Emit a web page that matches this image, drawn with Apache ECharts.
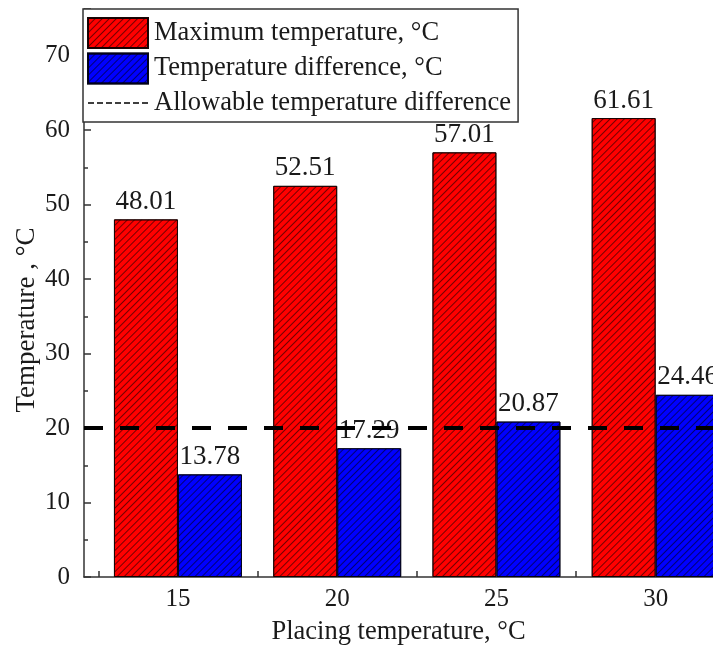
<!DOCTYPE html>
<html>
<head>
<meta charset="utf-8">
<script src="https://cdn.jsdelivr.net/npm/echarts@6/dist/echarts.min.js"></script>
<style>
  html, body { margin: 0; padding: 0; background: #ffffff; }
  #chart { width: 713px; height: 648px; }
</style>
</head>
<body>
<div id="chart"></div>
<script>
// Placing temperature groups (°C)
const placingTemps = [15, 20, 25, 30];
// Maximum temperature reached for each placing temperature (°C)
const maxTemps = [48.01, 52.51, 57.01, 61.61];
// Temperature difference for each placing temperature (°C)
const tempDiffs = [13.78, 17.29, 20.87, 24.46];
// Allowable temperature difference (°C)
const allowableDiff = 20;
// Tick marks sit between the groups, labels at the group centres
const xTickValues = [12.5, 17.5, 22.5, 27.5];
const xLabelValues = [15, 20, 25, 30];

const FONT = 'Liberation Serif, Times New Roman, serif';
const TEXT = '#1a1a1a';
const AXIS = '#333333';

// Thin diagonal "/" hatching laid over the bar fill
const hatch = {
  symbol: 'rect',
  symbolSize: 1,
  dashArrayX: [1, 0],
  dashArrayY: [1, 4],
  rotation: -Math.PI / 4,
  color: 'rgba(0,0,0,0.55)'
};

// Short-dash icon for the allowable-difference legend entry
const dashIcon = 'path://' + [0, 9, 18, 27, 36, 45, 54]
  .map(x => `M${x},0h6v1.5h-6z`).join(' ');

const chart = echarts.init(document.getElementById('chart'), null, { renderer: 'canvas' });

const barLabel = {
  show: true,
  position: 'top',
  distance: 4,
  color: TEXT,
  fontFamily: FONT,
  fontSize: 27,
  formatter: p => p.value[1].toFixed(2)
};

chart.setOption({
  animation: false,
  backgroundColor: '#ffffff',
  textStyle: { fontFamily: FONT },
  grid: { left: 84, right: 0, top: 9, bottom: 71, containLabel: false, outerBoundsMode: 'none' },
  legend: {
    orient: 'vertical',
    left: 83,
    top: 9,
    padding: [8, 7, 4, 4],
    itemGap: 3.5,
    itemWidth: 60,
    itemHeight: 30,
    backgroundColor: '#ffffff',
    borderColor: '#333333',
    borderWidth: 1.5,
    borderRadius: 0,
    textStyle: { fontFamily: FONT, fontSize: 26.5, lineHeight: 30, color: TEXT, padding: [0, 0, 0, 1] },
    data: [
      { name: 'Maximum temperature, °C', icon: 'rect' },
      { name: 'Temperature difference, °C', icon: 'rect' },
      { name: 'Allowable temperature difference', icon: dashIcon, itemStyle: { color: '#000', borderWidth: 0 } }
    ]
  },
  xAxis: {
    type: 'value',
    min: 12.05,
    max: 31.8,
    name: 'Placing temperature, °C',
    nameLocation: 'middle',
    nameGap: 42,
    nameMoveOverlap: false,
    nameTextStyle: { fontFamily: FONT, fontSize: 26.5, color: TEXT },
    axisLine: { show: true, onZero: false, lineStyle: { color: AXIS, width: 1.5 } },
    axisTick: { show: true, inside: true, length: 6, customValues: xTickValues, lineStyle: { color: AXIS, width: 1.5 } },
    axisLabel: { show: true, customValues: xLabelValues, margin: 10, fontFamily: FONT, fontSize: 25, color: TEXT },
    splitLine: { show: false }
  },
  yAxis: {
    type: 'value',
    min: 0,
    max: 76.25,
    interval: 10,
    name: 'Temperature , °C',
    nameLocation: 'middle',
    nameGap: 44,
    nameMoveOverlap: false,
    nameTextStyle: { fontFamily: FONT, fontSize: 27, color: TEXT, padding: [0, 54, 0, 0] },
    axisLine: { show: true, lineStyle: { color: AXIS, width: 1.5 } },
    axisTick: { show: true, inside: true, length: 7, lineStyle: { color: AXIS, width: 1.5 } },
    minorTick: { show: true, splitNumber: 2, length: 4, lineStyle: { color: AXIS, width: 1.5 } },
    axisLabel: { margin: 14, fontFamily: FONT, fontSize: 25, color: TEXT, showMaxLabel: false },
    splitLine: { show: false }
  },
  series: [
    {
      name: 'Maximum temperature, °C',
      type: 'bar',
      barWidth: 64,
      barGap: '0%',
      data: placingTemps.map((t, i) => [t, maxTemps[i]]),
      itemStyle: { color: '#ff0000', borderColor: 'rgba(20,0,0,0.85)', borderWidth: 1, decal: hatch },
      label: barLabel
    },
    {
      name: 'Temperature difference, °C',
      type: 'bar',
      barWidth: 64,
      barGap: '0%',
      data: placingTemps.map((t, i) => [t, tempDiffs[i]]),
      itemStyle: { color: '#0000ff', borderColor: 'rgba(0,0,20,0.85)', borderWidth: 1, decal: hatch },
      label: barLabel
    },
    {
      name: 'Allowable temperature difference',
      type: 'line',
      z: 5,
      symbol: 'none',
      data: [],
      lineStyle: { type: [5, 3.5], width: 1.5, color: '#000' },
      itemStyle: { color: '#000' },
      markLine: {
        silent: true,
        symbol: ['none', 'none'],
        label: { show: false },
        lineStyle: { type: [19, 17], width: 4, color: '#000' },
        data: [{ yAxis: allowableDiff }]
      }
    }
  ]
});
</script>
</body>
</html>
